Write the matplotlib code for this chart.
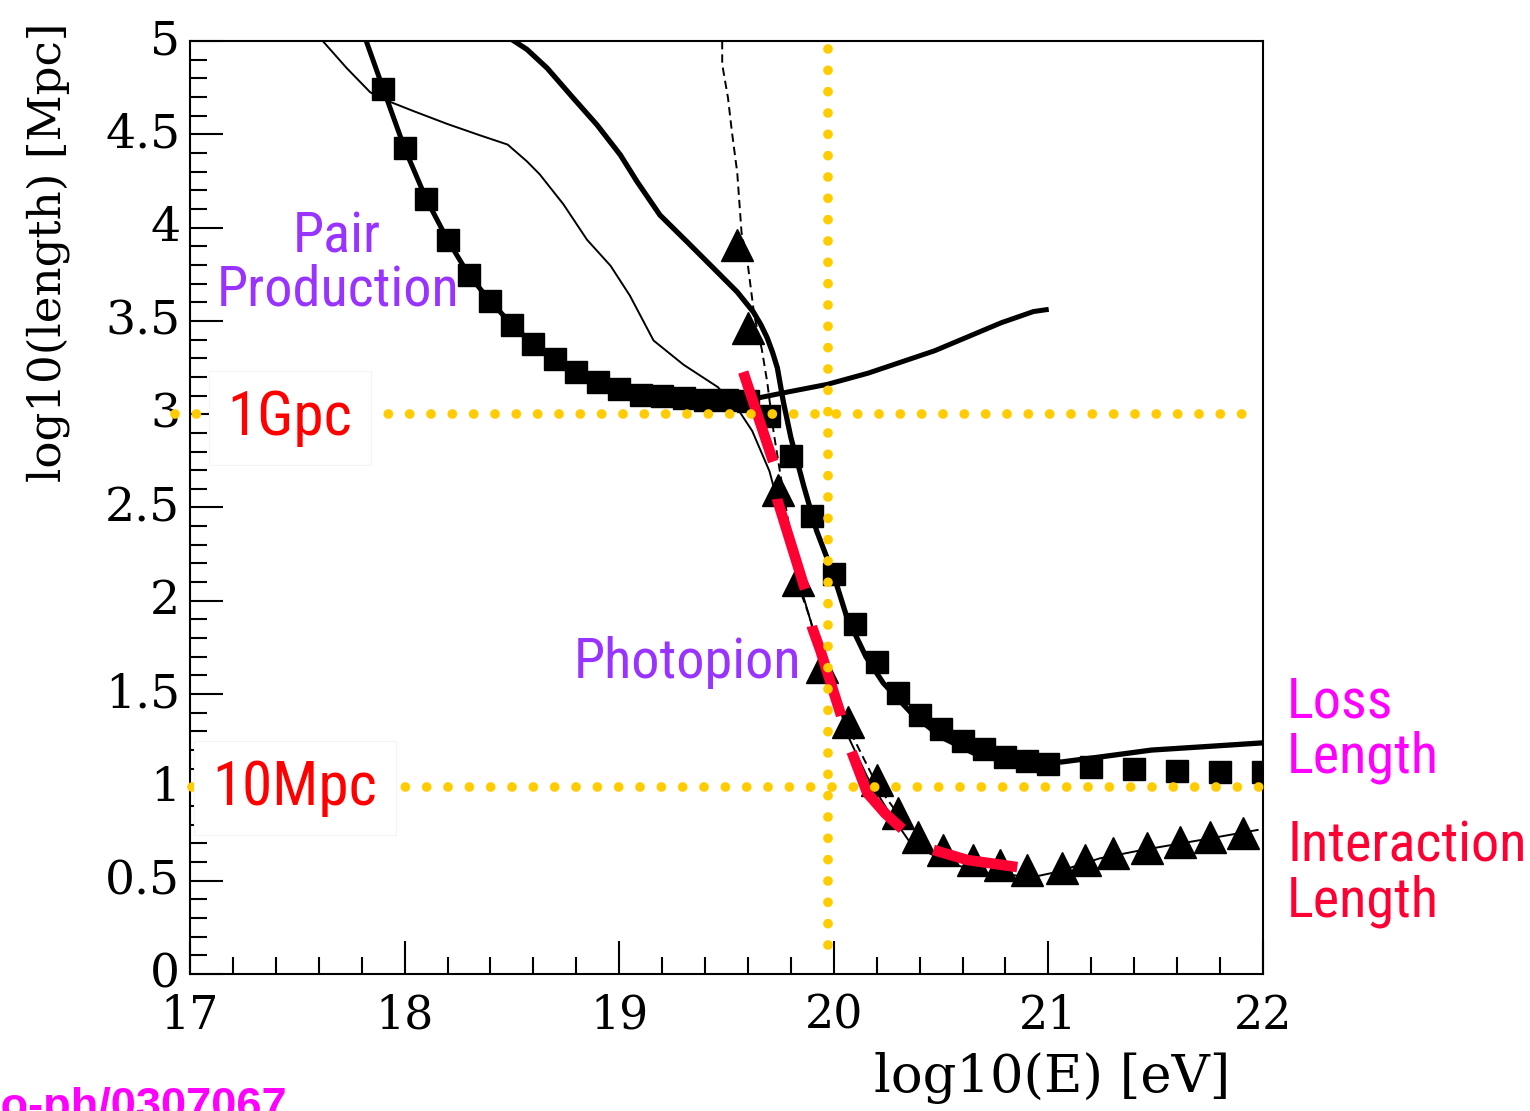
import matplotlib
matplotlib.use("Agg")
import matplotlib.pyplot as plt
from matplotlib import font_manager as fm
from matplotlib.ticker import MultipleLocator, FuncFormatter
from matplotlib.transforms import ScaledTranslation

# ---------------- data ----------------
# loss-length markers (squares)
sq_x = [17.9, 18.0, 18.1, 18.2, 18.3, 18.4, 18.5, 18.6, 18.7, 18.8, 18.9, 19.0,
        19.1, 19.2, 19.3, 19.4, 19.5, 19.6, 19.7, 19.8, 19.9, 20.0, 20.1, 20.2,
        20.3, 20.4, 20.5, 20.6, 20.7, 20.8, 20.9, 21.0, 21.2, 21.4, 21.6, 21.8, 22.0]
sq_y = [4.745, 4.425, 4.155, 3.935, 3.745, 3.605, 3.48, 3.375, 3.295, 3.225, 3.175, 3.135,
        3.105, 3.095, 3.085, 3.075, 3.075, 3.07, 2.99, 2.775, 2.455, 2.145, 1.875, 1.67,
        1.505, 1.39, 1.315, 1.25, 1.205, 1.165, 1.14, 1.125, 1.112, 1.10, 1.09, 1.08, 1.08]

# interaction-length markers (triangles)
tri_x = [19.55, 19.60, 19.74, 19.835, 19.946, 20.068, 20.203, 20.298, 20.394, 20.51,
         20.65, 20.776, 20.90, 21.065, 21.17, 21.30, 21.46, 21.615, 21.755, 21.905]
tri_y = [3.907, 3.462, 2.594, 2.112, 1.645, 1.35, 1.04, 0.863, 0.734, 0.665,
         0.611, 0.584, 0.557, 0.568, 0.611, 0.648, 0.675, 0.707, 0.734, 0.756]

# thick curve: pair-production loss length
pair_x = [17.815, 17.9, 18.0, 18.1, 18.2, 18.3, 18.4, 18.5, 18.6, 18.7, 18.8, 18.9, 19.0,
          19.1, 19.2, 19.3, 19.4, 19.5, 19.6, 19.66, 19.79, 19.97, 20.16, 20.47, 20.78,
          20.93, 20.99]
pair_y = [5.02, 4.745, 4.425, 4.155, 3.935, 3.745, 3.605, 3.48, 3.375, 3.295, 3.225, 3.175,
          3.135, 3.105, 3.095, 3.085, 3.075, 3.075, 3.075, 3.09, 3.12, 3.16, 3.22, 3.34,
          3.49, 3.55, 3.56]

# thick curve: total / photopion loss length
loss_x = [18.47, 18.57, 18.664, 18.786, 18.897, 19.005, 19.084, 19.19, 19.317, 19.438,
          19.55, 19.625, 19.66, 19.69, 19.715, 19.737, 19.765, 19.80, 19.86, 19.92, 20.00,
          20.06, 20.15, 20.23, 20.36, 20.50, 20.65, 20.84, 21.06, 21.24, 21.48, 21.71,
          21.99]
loss_y = [5.03, 4.955, 4.855, 4.694, 4.55, 4.39, 4.245, 4.067, 3.923, 3.784,
          3.655, 3.548, 3.48, 3.408, 3.33, 3.248, 3.066, 2.875, 2.615, 2.375, 2.135,
          1.915, 1.70, 1.56, 1.40, 1.27, 1.185, 1.147, 1.136, 1.163, 1.20, 1.217,
          1.238]

# thin solid curve: interaction length
int_x = [17.58, 17.73, 17.84, 17.93, 18.04, 18.20, 18.35, 18.48, 18.57, 18.63, 18.74,
         18.85, 18.96, 19.05, 19.16, 19.30, 19.46, 19.56, 19.62, 19.70, 19.84, 19.90,
         19.98, 20.06, 20.156, 20.25, 20.357, 20.53, 20.716, 20.93, 21.04, 21.24, 21.44,
         21.71, 21.975]
int_y = [5.05, 4.855, 4.725, 4.675, 4.625, 4.555, 4.495, 4.445, 4.355, 4.285, 4.125,
         3.935, 3.795, 3.635, 3.395, 3.265, 3.145, 3.015, 2.91, 2.695, 2.095, 1.86,
         1.645, 1.29, 1.056, 0.88, 0.702, 0.595, 0.541, 0.52, 0.547, 0.62, 0.665,
         0.718, 0.772]

# dashed curve: photopion interaction length
pion_x = [19.48, 19.48, 19.507, 19.525, 19.55, 19.57, 19.60, 19.63, 19.665, 19.69,
          19.72, 19.75, 19.84, 19.89, 19.945, 20.07, 20.2, 20.3]
pion_y = [5.0, 4.875, 4.695, 4.515, 4.295, 3.975, 3.795, 3.525, 3.345, 3.17,
          2.90, 2.685, 2.065, 1.905, 1.645, 1.315, 1.015, 0.855]

# red highlighted interaction length
red_x = [19.578, 19.718, 19.737, 19.867, 19.90, 19.937, 20.03, 20.08, 20.156, 20.24,
         20.324, 20.464, 20.622, 20.855]
red_y = [3.226, 2.744, 2.54, 2.058, 1.854, 1.736, 1.40, 1.20, 0.97, 0.86,
         0.772, 0.665, 0.611, 0.573]

# reference guide lines
guide_levels = [3.0, 1.0]          # 1 Gpc, 10 Mpc
guide_h_x = [[16.93, 21.93], [17.01, 22.0]]
guide_energy = 19.975
guide_v_y = [0.155, 4.98]

# ---------------- fonts ----------------
names = {f.name for f in fm.fontManager.ttflist}
narrow = None
for cand in ["Liberation Sans Narrow", "Roboto Condensed", "Open Sans Condensed",
             "Arial Narrow"]:
    if cand in names:
        narrow = cand
        break
if narrow is not None:
    ann_kw = dict(family=narrow)
    fs_scale = 1.0
else:
    ann_kw = dict(family="Liberation Sans")
    fs_scale = 0.86

plt.rcParams["font.family"] = "DejaVu Serif"
plt.rcParams["lines.scale_dashes"] = False

W, H = 1530, 1111
fig = plt.figure(figsize=(W / 100, H / 100), dpi=100, facecolor="white")
ax = fig.add_axes([190 / W, 1 - 974 / H, (1263 - 190) / W, (974 - 41) / H])
ax.set_xlim(17, 22)
ax.set_ylim(0, 5)

# curves
ax.plot(pair_x, pair_y, color="k", lw=3.6, solid_joinstyle="round", zorder=3)
ax.plot(loss_x, loss_y, color="k", lw=3.8, solid_joinstyle="round", zorder=3)
ax.plot(int_x, int_y, color="k", lw=1.4, zorder=3)
ax.plot(pion_x, pion_y, color="k", lw=1.4, dashes=(6, 3.6), zorder=3)
ax.plot(sq_x, sq_y, linestyle="none", marker="s", color="k", ms=15.5, zorder=4)
ax.plot(tri_x, tri_y, linestyle="none", marker="^", color="k", ms=22.5, zorder=4)

# red dashed highlight
ax.plot(red_x, red_y, color="#FF0033", lw=7.6, dashes=(68, 27),
        dash_capstyle="butt", zorder=5)

# yellow dotted guides
for lvl, (x0, x1) in zip(guide_levels, guide_h_x):
    ax.plot([x0, x1], [lvl, lvl], color="#FFCC00", lw=7.0, dashes=(0.01, 15.35),
            dash_capstyle="round", clip_on=False, zorder=6)
ax.plot([guide_energy, guide_energy], guide_v_y, color="#FFCC00", lw=7.0,
        dashes=(0.01, 15.35), dash_capstyle="round", clip_on=False, zorder=6)

# ticks
ax.xaxis.set_major_locator(MultipleLocator(1))
ax.xaxis.set_minor_locator(MultipleLocator(0.2))
ax.yaxis.set_major_locator(MultipleLocator(0.5))
ax.yaxis.set_minor_locator(MultipleLocator(0.1))
ax.yaxis.set_major_formatter(FuncFormatter(lambda v, p: f"{v:g}"))
ax.xaxis.set_major_formatter(FuncFormatter(lambda v, p: f"{v:g}"))
ax.tick_params(which="both", direction="in", top=False, right=False, width=1.5)
ax.tick_params(which="major", length=23.5)
ax.tick_params(which="minor", length=12.5)
ax.tick_params(axis="y", which="major", pad=7, labelsize=34)
ax.tick_params(axis="x", which="major", pad=14, labelsize=33)
for s in ax.spines.values():
    s.set_linewidth(1.5)
shift_up = ScaledTranslation(0, 4 / 100, fig.dpi_scale_trans)
for lab in ax.get_yticklabels():
    lab.set_transform(lab.get_transform() + shift_up)

# axis titles
fig.text(1230 / W, 1 - 1078 / H, "log10(E) [eV]", ha="right", va="center", fontsize=38)
fig.text(48 / W, 1 - 252 / H, "log10(length) [Mpc]", ha="center", va="center",
         rotation=90, fontsize=32.5)

# annotations
purple = "#9933FF"
fa = 40.5 * fs_scale
fb = 44 * fs_scale
ax.text(17.685, 3.869, "Pair", color=purple, fontsize=fa, ha="center", va="baseline",
        zorder=8, **ann_kw)
ax.text(17.688, 3.585, "Production", color=purple, fontsize=fa, ha="center",
        va="baseline", zorder=8, **ann_kw)
ax.text(19.317, 1.586, "Photopion", color=purple, fontsize=fa, ha="center",
        va="baseline", zorder=8, **ann_kw)
ax.text(17.466, 2.889, "1Gpc", color="#FF0000", fontsize=fb, ha="center", va="baseline",
        zorder=10, clip_on=False,
        bbox=dict(boxstyle="square,pad=0.3", fc="white", ec="#F4F4F4", lw=0.8), **ann_kw)
ax.text(17.49, 0.906, "10Mpc", color="#FF0000", fontsize=fb, ha="center", va="baseline",
        zorder=10, clip_on=False,
        bbox=dict(boxstyle="square,pad=0.3", fc="white", ec="#F4F4F4", lw=0.8), **ann_kw)

fig.text(1287 / W, 1 - 718 / H, "Loss", color="#FF00FF", fontsize=fa, ha="left",
         va="baseline", **ann_kw)
fig.text(1287 / W, 1 - 772 / H, "Length", color="#FF00FF", fontsize=fa, ha="left",
         va="baseline", **ann_kw)
fig.text(1287 / W, 1 - 862 / H, "Interaction", color="#FF0033", fontsize=fa, ha="left",
         va="baseline", **ann_kw)
fig.text(1287 / W, 1 - 916 / H, "Length", color="#FF0033", fontsize=fa, ha="left",
         va="baseline", **ann_kw)

fig.text(287 / W, 1 - 1119 / H, "astro-ph/0307067", color="#FF00FF", fontsize=32.5,
         fontweight="bold", family="Liberation Sans", ha="right", va="baseline")

fig.savefig("out.png", dpi=100, facecolor="white")
